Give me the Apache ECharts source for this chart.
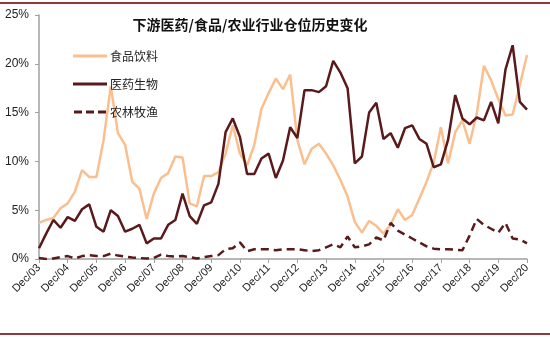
<!DOCTYPE html>
<html><head><meta charset="utf-8">
<script src="https://cdn.jsdelivr.net/npm/echarts@6/dist/echarts.min.js"></script>
<style>html,body{margin:0;padding:0;background:#fff}#c{width:550px;height:337px}</style>
</head><body><div id="c"></div>
<script>
// quarterly categories Dec/03 .. Dec/20
const years = ['03','04','05','06','07','08','09','10','11','12','13','14','15','16','17','18','19','20'];
const quarterMonths = ['Mar','Jun','Sep','Dec'];
const categories = ['Dec/03'];
for (let y = 1; y < years.length; y++) for (const m of quarterMonths) categories.push(m + '/' + years[y]);

const seriesNames = ['食品饮料','医药生物','农林牧渔'];
const food = [3.7,4.0,4.2,5.2,5.7,6.9,9.1,8.4,8.4,12.2,17.7,12.9,11.7,7.9,7.2,4.1,6.7,8.3,8.8,10.5,10.4,5.7,5.4,8.5,8.5,8.9,10.8,13.7,10.8,9.6,11.7,15.4,17.0,18.5,17.4,18.9,12.2,9.7,11.3,11.8,10.8,9.6,8.1,6.4,3.8,2.7,3.9,3.4,2.6,3.5,5.1,4.0,4.5,6.2,7.9,9.9,13.5,9.8,13.0,14.2,11.8,14.9,19.8,18.3,16.4,14.7,14.8,17.8,20.9];
const pharma = [1.1,2.6,4.0,3.2,4.3,3.9,5.1,5.6,3.3,2.8,5.0,4.4,2.8,3.1,3.5,1.6,2.1,2.1,3.5,4.0,6.7,4.4,3.6,5.5,5.8,7.7,13.0,14.4,12.5,8.7,8.7,10.3,10.8,8.3,10.1,13.5,12.4,17.3,17.3,17.1,17.7,20.3,19.1,17.5,9.8,10.5,15.0,16.0,12.3,12.9,11.4,13.4,13.7,12.3,11.8,9.4,9.7,12.2,16.8,14.4,13.8,14.5,14.2,16.1,13.9,19.4,21.9,16.1,15.3];
const agri = [0.1,0.0,0.05,0.2,0.3,0.05,0.3,0.4,0.3,0.3,0.55,0.35,0.25,0.15,0.1,0.05,0.1,0.45,0.3,0.25,0.3,0.2,0.05,0.2,0.3,0.4,1.0,1.1,1.7,0.8,1.0,1.0,1.0,0.9,1.0,1.0,1.0,0.9,0.8,0.9,1.2,1.5,1.2,2.3,1.2,1.3,1.5,2.2,1.9,3.7,2.9,2.5,2.1,1.7,1.3,1.06,1.0,1.0,0.95,0.9,2.4,4.1,3.5,3.1,2.7,3.7,2.1,2.0,1.6];
const yTicks = [0,5,10,15,20,25];

const chart = echarts.init(document.getElementById('c'), null, {renderer:'canvas'});
const dark = '#5a1a1c', peach = '#fbbf8f';
const dashIcon = 'path://M0,0h8v3h-8z M12,0h8v3h-8z M24,0h8v3h-8z';
chart.setOption({
  animation:false,
  backgroundColor:'#fff',
  title:{text:'下游医药/食品/农业行业仓位历史变化', left:245, top:13, textAlign:'center',
    textStyle:{fontFamily:'Noto Sans CJK SC', fontSize:14, fontWeight:'bold', color:'#111'}},
  legend:{orient:'vertical', left:68, top:45, itemWidth:34, itemHeight:3, itemGap:16,
    textStyle:{fontFamily:'Noto Sans CJK SC', fontSize:12, color:'#222', padding:[0,0,0,-2]},
    data:[{name:seriesNames[0], icon:'rect'},{name:seriesNames[1], icon:'rect'},{name:seriesNames[2], icon:dashIcon}]},
  grid:{left:39, right:23, top:15, bottom:78, containLabel:false},
  xAxis:{type:'category', boundaryGap:false, data:categories,
    axisLine:{lineStyle:{color:'#a0a0a0', width:1.5}},
    axisTick:{interval:3, length:4, lineStyle:{color:'#a0a0a0'}},
    axisLabel:{interval:3, rotate:45, fontFamily:'Liberation Sans', fontSize:11, color:'#222', margin:7}},
  yAxis:{type:'value', min:yTicks[0], max:yTicks[yTicks.length-1], interval:5,
    axisLine:{show:true, lineStyle:{color:'#a0a0a0', width:1.5}},
    axisTick:{show:true, length:4, lineStyle:{color:'#a0a0a0'}},
    splitLine:{show:false},
    axisLabel:{formatter:'{value}%', fontFamily:'Liberation Sans', fontSize:12, color:'#222', margin:10}},
  series:[
    {name:seriesNames[0], type:'line', data:food, showSymbol:false, symbol:'none',
      lineStyle:{color:peach, width:2.5}, itemStyle:{color:peach}},
    {name:seriesNames[1], type:'line', data:pharma, showSymbol:false, symbol:'none',
      lineStyle:{color:dark, width:2.5}, itemStyle:{color:dark}},
    {name:seriesNames[2], type:'line', data:agri, showSymbol:false, symbol:'none',
      lineStyle:{color:dark, width:2.5, type:[8,5]}, itemStyle:{color:dark}}
  ],
  graphic:[
    {type:'line', shape:{x1:0,y1:3,x2:550,y2:3}, style:{stroke:'#8e3b3b', lineWidth:2}},
    {type:'line', shape:{x1:0,y1:334,x2:550,y2:334}, style:{stroke:'#8e3b3b', lineWidth:2}}
  ]
});
</script></body></html>
